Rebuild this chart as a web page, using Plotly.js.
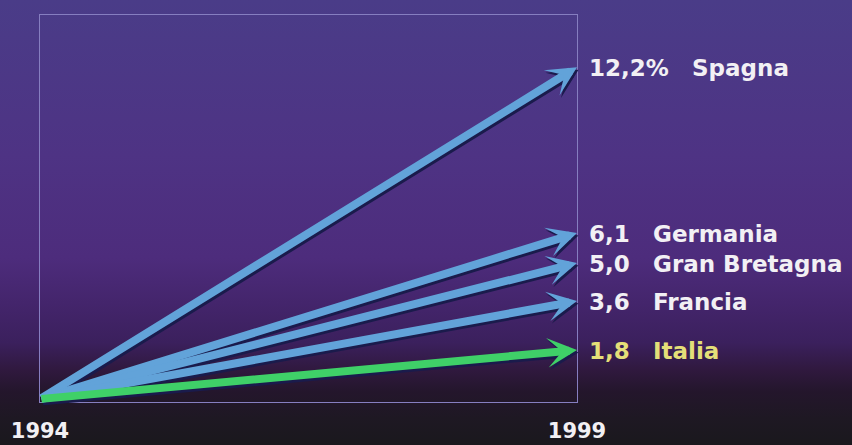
<!DOCTYPE html>
<html>
<head>
<meta charset="utf-8">
<script src="https://cdn.plot.ly/plotly-3.0.1.min.js"></script>
<style>
  html, body { margin: 0; padding: 0; }
  #chart {
    width: 852px; height: 445px;
    background: linear-gradient(to bottom, #4a3c88 0%, #4e3384 35%, #4d2c7c 58%, #44256c 68%, #3b205d 77%, #30193f 83%, #24162c 88%, #1e1823 94%, #1a181d 100%);
  }
</style>
</head>
<body>
<div id="chart"></div>
<script>
const countries = ['Spagna', 'Germania', 'Gran Bretagna', 'Francia', 'Italia'];
const values = [12.2, 6.1, 5.0, 3.6, 1.8];
const valueLabels = ['12,2%', '6,1', '5,0', '3,6', '1,8'];
const years = ['1994', '1999'];

const blue = '#62a3d9';
const green = '#3fd068';
const shadow = '#1a1b4c';
const white = '#f2f0f4';
const yellow = '#e4df78';
const font = 'DejaVu Sans, Arial, sans-serif';

const annotations = [];
// shadows
values.forEach((v, i) => {
  annotations.push({
    x: 1, y: v, ax: 0, ay: 0, xref: 'x', yref: 'y', axref: 'x', ayref: 'y',
    text: '', showarrow: true, arrowhead: 3, arrowsize: 0.62, arrowwidth: 8,
    arrowcolor: shadow, standoff: 0, startstandoff: 0, xshift: 1.5, yshift: -2.5
  });
});
// arrows (blue first, Italia green last)
values.forEach((v, i) => {
  const isItaly = countries[i] === 'Italia';
  annotations.push({
    x: 1, y: v, ax: 0, ay: 0, xref: 'x', yref: 'y', axref: 'x', ayref: 'y',
    text: '', showarrow: true, arrowhead: 3, arrowsize: 0.62, arrowwidth: 8,
    arrowcolor: isItaly ? green : blue, standoff: 0, startstandoff: 0
  });
});
// labels (paper x beyond 1 so they sit right of the frame)
values.forEach((v, i) => {
  const isItaly = countries[i] === 'Italia';
  const col = isItaly ? yellow : white;
  annotations.push({
    x: 1.019, y: v, xref: 'paper', yref: 'y', xanchor: 'left', yanchor: 'middle',
    text: '<b>' + valueLabels[i] + '</b>', showarrow: false,
    font: {family: font, size: 23, color: col}, yshift: -1
  });
  annotations.push({
    x: i === 0 ? 1.211 : 1.138, y: v, xref: 'paper', yref: 'y', xanchor: 'left', yanchor: 'middle',
    text: '<b>' + countries[i] + '</b>', showarrow: false,
    font: {family: font, size: 23, color: col}, yshift: -1
  });
});

const layout = {
  width: 852, height: 445,
  margin: {l: 40, r: 275, t: 15, b: 43},
  paper_bgcolor: 'rgba(0,0,0,0)',
  plot_bgcolor: 'rgba(0,0,0,0)',
  showlegend: false,
  xaxis: {
    range: [0, 1], showgrid: false, zeroline: false,
    showline: true, mirror: true, linecolor: '#867ec0', linewidth: 1,
    tickvals: [0, 1], ticktext: years.map(y => '<b>' + y + '</b>'),
    ticks: 'outside', ticklen: 10, tickcolor: 'rgba(0,0,0,0)',
    tickfont: {family: font, size: 21, color: white}
  },
  yaxis: {
    range: [-0.11, 14.12], showgrid: false, zeroline: false,
    showline: true, mirror: true, linecolor: '#867ec0', linewidth: 1,
    showticklabels: false, ticks: ''
  },
  annotations: annotations
};

Plotly.newPlot('chart', [], layout, {displayModeBar: false, staticPlot: true});
</script>
</body>
</html>
